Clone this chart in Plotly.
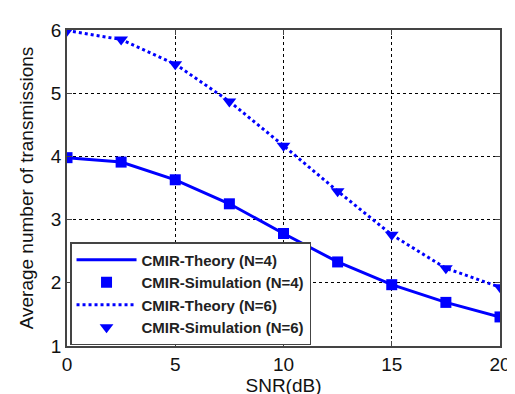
import plotly.graph_objects as go

snr = [0, 2.5, 5, 7.5, 10, 12.5, 15, 17.5, 20]
n4_theory = [3.98, 3.91, 3.63, 3.25, 2.78, 2.33, 1.97, 1.69, 1.46]
n4_sim = [3.98, 3.91, 3.63, 3.25, 2.78, 2.33, 1.97, 1.69, 1.46]
n6_theory = [5.99, 5.85, 5.46, 4.87, 4.17, 3.45, 2.76, 2.23, 1.93]
n6_sim = [5.99, 5.85, 5.46, 4.87, 4.17, 3.45, 2.76, 2.23, 1.93]

x_ticks = [0, 5, 10, 15, 20]
y_ticks = [1, 2, 3, 4, 5, 6]

blue = "#0000FF"
fig = go.Figure()
fig.add_trace(go.Scatter(x=snr, y=n4_theory, mode="lines", name="CMIR-Theory (N=4)",
                         line=dict(color=blue, width=3)))
fig.add_trace(go.Scatter(x=snr, y=n4_sim, mode="markers", name="CMIR-Simulation (N=4)",
                         marker=dict(color=blue, symbol="square", size=11)))
fig.add_trace(go.Scatter(x=snr, y=n6_theory, mode="lines", name="CMIR-Theory (N=6)",
                         line=dict(color=blue, width=3, dash="dot")))
fig.add_trace(go.Scatter(x=snr, y=n6_sim, mode="markers", name="CMIR-Simulation (N=6)",
                         marker=dict(color=blue, symbol="triangle-down", size=12)))

axis_common = dict(
    showgrid=True, gridcolor="black", gridwidth=1, griddash="3px,3px",
    showline=True, linecolor="#444", linewidth=1.5, mirror="ticks",
    ticks="inside", ticklen=5, tickcolor="#444",
    zeroline=False,
    tickfont=dict(family="Liberation Sans, Arial", size=19, color="#111"),
)

fig.update_layout(
    width=515, height=394,
    margin=dict(l=59, r=14, t=18, b=52),
    paper_bgcolor="white", plot_bgcolor="white",
    font=dict(family="Liberation Sans, Arial", color="#111"),
    xaxis=dict(range=[0, 20], tickvals=x_ticks,
               title=dict(text="SNR(dB)", font=dict(size=19), standoff=2),
               **axis_common),
    yaxis=dict(range=[1, 6], tickvals=y_ticks,
               title=dict(text="Average number of transmissions", font=dict(size=19), standoff=12),
               **axis_common),
    legend=dict(x=0.007, y=0.003, xanchor="left", yanchor="bottom",
                bgcolor="white", bordercolor="#444", borderwidth=1.5,
                font=dict(family="Liberation Sans, Arial", size=15, weight="bold", color="#222"),
                itemwidth=60, tracegroupgap=0),
    showlegend=True,
)

fig.write_html("out.html")
